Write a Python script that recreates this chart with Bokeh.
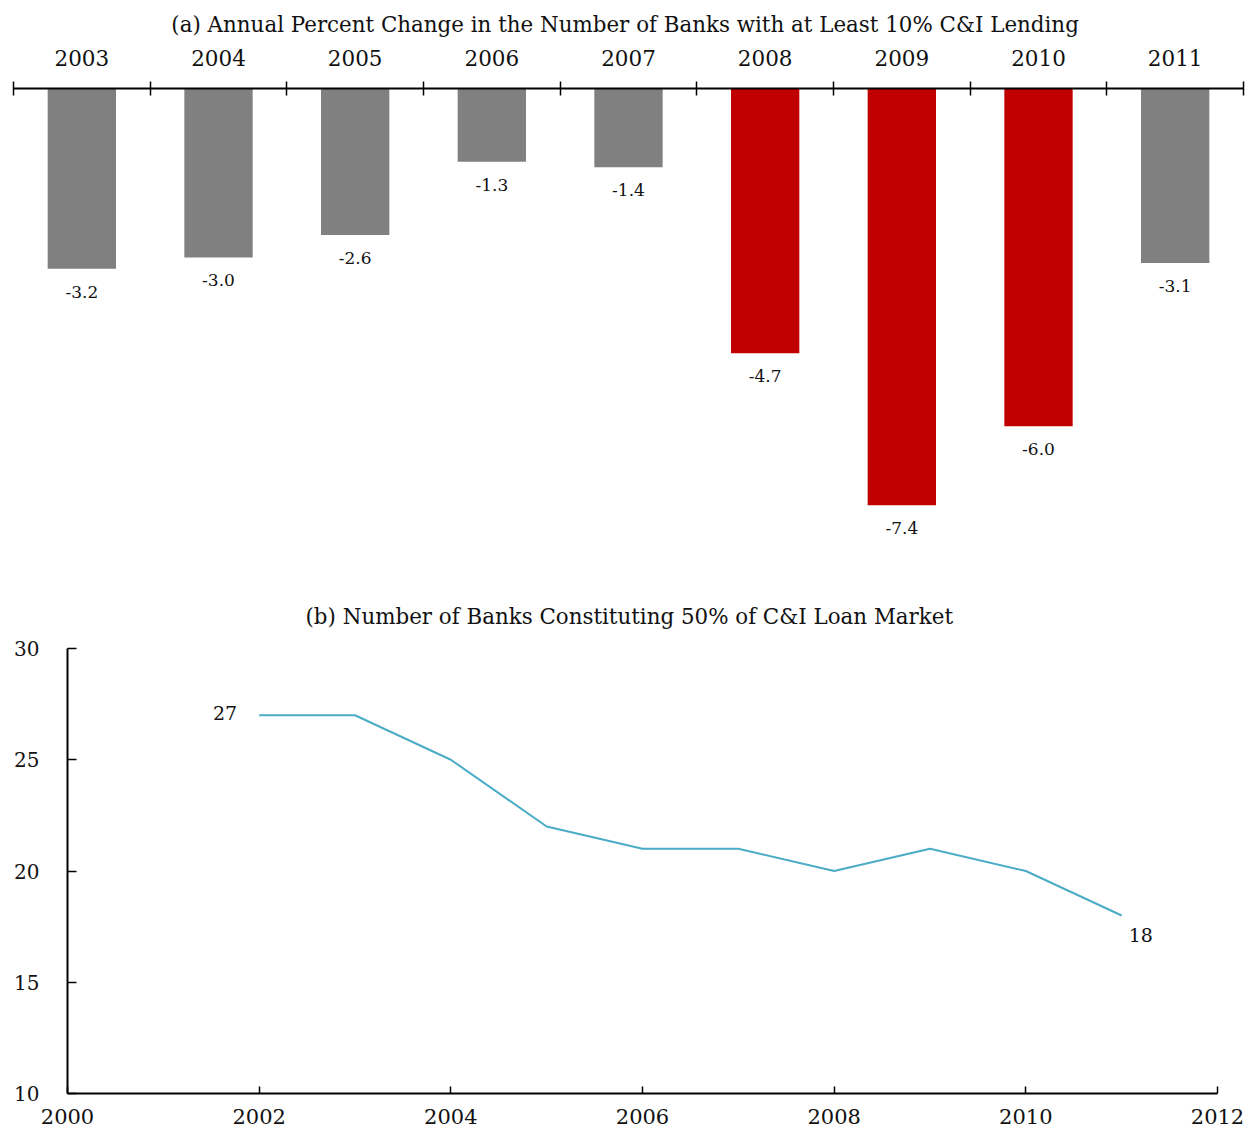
from bokeh.plotting import figure
from bokeh.models import ColumnDataSource, Range1d, FixedTicker
from bokeh.embed import file_html
from bokeh.resources import INLINE
from bokeh.core.properties import value

# ---- Data ----
years_a = ["2003", "2004", "2005", "2006", "2007", "2008", "2009", "2010", "2011"]
pct_change = [-3.2, -3.0, -2.6, -1.3, -1.4, -4.7, -7.4, -6.0, -3.1]
crisis_years = ["2008", "2009", "2010"]

years_b = [2002, 2003, 2004, 2005, 2006, 2007, 2008, 2009, 2010, 2011]
num_banks = [27, 27, 25, 22, 21, 21, 20, 21, 20, 18]
y_ticks_b = [10, 15, 20, 25, 30]
x_ticks_b = [2000, 2002, 2004, 2006, 2008, 2010, 2012]

FONT = "DejaVu Serif"
GRAY = "#808080"
RED = "#C00000"
BLUE = "#4BACC6"
INK = "#111111"

# ---- Panel (a) ----
n = len(years_a)
xc = list(range(n))
colors = [RED if y in crisis_years else GRAY for y in years_a]
labels = [f"{v:.1f}" for v in pct_change]
src = ColumnDataSource(dict(x=xc, pct=pct_change, color=colors, label=labels))

p1 = figure(frame_width=1230, frame_height=473,
            x_range=Range1d(-0.5, n - 0.5), y_range=Range1d(-8.4, 0),
            x_axis_location="above", y_axis_location=None,
            output_backend="svg", toolbar_location=None,
            min_border_left=13, min_border_right=8, min_border_top=0, min_border_bottom=20)
p1.title.text = "(a)  Annual Percent Change in the Number of Banks with at Least 10% C&I Lending"
p1.title.align = "center"
p1.title.text_font = FONT
p1.title.text_font_size = "21.4px"
p1.title.text_font_style = "normal"
p1.title.text_color = INK
p1.title.standoff = 19

p1.vbar(x="x", top=0, bottom="pct", width=0.5, fill_color="color", line_color=None, source=src)
p1.text(x="x", y="pct", text="label", text_align="center", text_baseline="top", y_offset=17,
        text_font=value(FONT), text_font_size="17px", text_color=INK, source=src)

ax = p1.xaxis[0]
ax.ticker = FixedTicker(ticks=xc, minor_ticks=[i - 0.5 for i in range(n + 1)])
ax.major_label_overrides = {i: y for i, y in zip(xc, years_a)}
ax.major_tick_in = 0
ax.major_tick_out = 0
ax.minor_tick_in = 7
ax.minor_tick_out = 7
ax.minor_tick_line_width = 1.5
ax.minor_tick_line_color = "black"
ax.axis_line_width = 2
ax.axis_line_color = "black"
ax.major_label_text_font = FONT
ax.major_label_text_font_size = "21.5px"
ax.major_label_text_color = INK
ax.major_label_standoff = 16
p1.grid.visible = False
p1.outline_line_color = None

# ---- Panel (b) ----
p2 = figure(frame_width=1150, frame_height=445,
            x_range=Range1d(2000, 2012), y_range=Range1d(10, 30),
            output_backend="svg", toolbar_location=None,
            min_border_left=67, min_border_right=34, min_border_top=67, min_border_bottom=39)
p2.title.text = "(b)  Number of Banks Constituting 50% of C&I Loan Market"
p2.title.align = "left"
p2.title.offset = 238
p2.title.text_font = FONT
p2.title.text_font_size = "21.4px"
p2.title.text_font_style = "normal"
p2.title.text_color = INK
p2.title.standoff = 40

p2.line(years_b, num_banks, line_color=BLUE, line_width=2)
p2.text(x=[years_b[0]], y=[num_banks[0]], text=[str(num_banks[0])], text_align="right",
        text_baseline="middle", x_offset=-22, y_offset=-2,
        text_font=value(FONT), text_font_size="19px", text_color=INK)
p2.text(x=[years_b[-1]], y=[num_banks[-1]], text=[str(num_banks[-1])], text_align="left",
        text_baseline="middle", x_offset=7, y_offset=19,
        text_font=value(FONT), text_font_size="19px", text_color=INK)

for a in (p2.xaxis[0], p2.yaxis[0]):
    a.major_tick_out = 0
    a.minor_tick_in = 0
    a.minor_tick_out = 0
    a.major_tick_line_width = 1.5
    a.axis_line_width = 2
    a.axis_line_color = "black"
    a.major_label_text_font = FONT
    a.major_label_text_color = INK
p2.xaxis[0].major_label_text_font_size = "21px"
p2.yaxis[0].major_label_text_font_size = "20px"
p2.xaxis[0].ticker = FixedTicker(ticks=x_ticks_b)
p2.yaxis[0].ticker = FixedTicker(ticks=y_ticks_b)
p2.xaxis[0].major_tick_in = 7
p2.yaxis[0].major_tick_in = 9
p2.xaxis[0].major_label_standoff = 15
p2.yaxis[0].major_label_standoff = 28
p2.grid.visible = False
p2.outline_line_color = None

open("out.html", "w").write(file_html([p1, p2], INLINE))
